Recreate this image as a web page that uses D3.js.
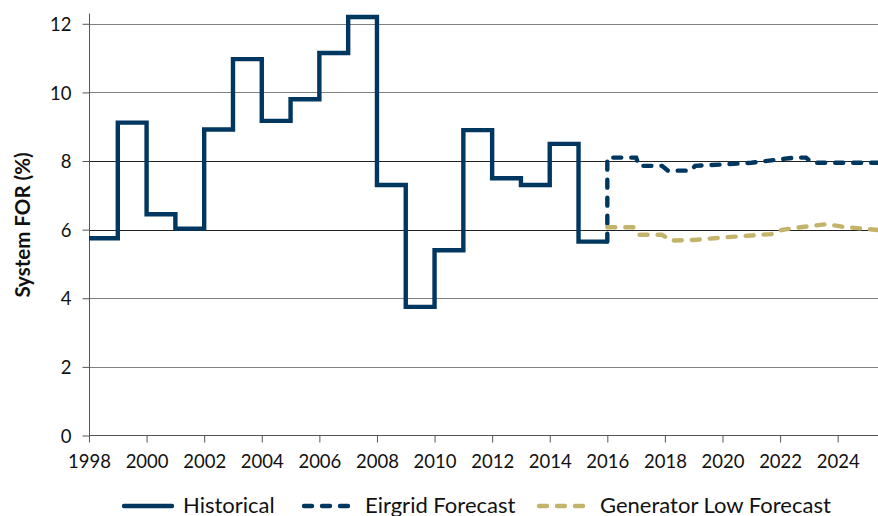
<!DOCTYPE html>
<html><head><meta charset="utf-8">
<script src="https://cdn.jsdelivr.net/npm/d3@7/dist/d3.min.js"></script>
<style>body{margin:0;background:#fff}svg{display:block}text{font-family:Lato,"Open Sans",sans-serif;fill:#111}</style>
</head><body><svg id="c" width="878" height="516"></svg>
<script>
// Historical annual values (step: value held from year to next year)
const histYears = [1998,1999,2000,2001,2002,2003,2004,2005,2006,2007,2008,2009,2010,2011,2012,2013,2014,2015,2016];
const histValues = [5.75,9.12,6.45,6.03,8.92,10.97,9.17,9.8,11.15,12.2,7.3,3.75,5.4,8.9,7.5,7.3,8.5,5.65,5.65];
// Eirgrid forecast
const eirYears = [2016,2016,2017,2017.1,2017.9,2018.1,2018.9,2019.05,2020,2021,2022,2022.5,2022.9,2023.1,2025.4];
const eirValues = [5.65,8.1,8.1,7.86,7.86,7.72,7.72,7.86,7.9,7.95,8.05,8.1,8.1,7.95,7.95];
// Generator low forecast
const genYears = [2016,2016.9,2017.1,2017.9,2018.2,2019,2020,2021,2021.7,2022.05,2022.5,2023,2023.6,2024.2,2025.4];
const genValues = [6.07,6.07,5.85,5.85,5.68,5.70,5.77,5.83,5.87,5.99,6.05,6.1,6.16,6.08,5.99];
const xTicks = [1998,2000,2002,2004,2006,2008,2010,2012,2014,2016,2018,2020,2022,2024];
const yTicks = [0,2,4,6,8,10,12];
const legendLabels = ["Historical","Eirgrid Forecast","Generator Low Forecast"];

const navy = "#003760", gold = "#c4b36a";
const svg = d3.select("#c");
const x = d3.scaleLinear().domain([1998, 2025.4]).range([89, 878]);
const y = d3.scaleLinear().domain([0, 12.3]).range([435.5, 13.5]);

// gridlines
svg.append("g").selectAll("line").data(yTicks.filter(d=>d>0)).join("line")
  .attr("x1", 89).attr("x2", 878).attr("y1", d=>Math.round(y(d))+0.5).attr("y2", d=>Math.round(y(d))+0.5)
  .attr("stroke", d=> (d===8||d===6) ? "#222" : "#808080").attr("stroke-width",1);

// axes
const yAxis = svg.append("g").attr("transform","translate(89.5,0)")
  .call(d3.axisLeft(y).tickValues(yTicks).tickSize(7).tickPadding(11).tickFormat(d3.format("d")));
const xAxis = svg.append("g").attr("transform","translate(0,435.5)")
  .call(d3.axisBottom(x).tickValues(xTicks).tickSize(7).tickPadding(12).tickFormat(d3.format("d")));
[yAxis,xAxis].forEach(a=>{
  a.select(".domain").attr("stroke","#555");
  a.selectAll(".tick line").attr("stroke","#555");
  a.selectAll("text").style("font-size","18.5px").attr("fill","#111");
});
yAxis.select(".domain").attr("d","M0,13.5V435.5");
xAxis.select(".domain").attr("d","M89,0H878");
yAxis.selectAll("text").attr("dy","0.36em");

// lines
const histPts = histYears.map((yr,i)=>[yr,histValues[i]]);
svg.append("path").datum(histPts)
  .attr("d", d3.line().x(d=>x(d[0])).y(d=>y(d[1])).curve(d3.curveStepAfter))
  .attr("fill","none").attr("stroke",navy).attr("stroke-width",4.4).attr("stroke-linejoin","miter");
svg.append("path").datum(eirYears.map((yr,i)=>[yr,eirValues[i]]))
  .attr("d", d3.line().x(d=>x(d[0])).y(d=>y(d[1])))
  .attr("fill","none").attr("stroke",navy).attr("stroke-width",4.4).attr("stroke-dasharray","8,10").attr("stroke-linecap","round");
svg.append("path").datum(genYears.map((yr,i)=>[yr,genValues[i]]))
  .attr("d", d3.line().x(d=>x(d[0])).y(d=>y(d[1])))
  .attr("fill","none").attr("stroke",gold).attr("stroke-width",4.4).attr("stroke-dasharray","8,10").attr("stroke-linecap","round");

// y title
svg.append("text").attr("transform","translate(30,225) rotate(-90)").attr("text-anchor","middle")
  .style("font-size","20.5px").style("font-weight","bold").text("System FOR (%)");

// legend
const leg = [
  {x1:124,x2:172,tx:183,c:navy,dash:null},
  {x1:304,x2:352,tx:365,c:navy,dash:"8,10"},
  {x1:539,x2:587,tx:600,c:gold,dash:"8,10"}
];
leg.forEach((l,i)=>{
  svg.append("line").attr("x1",l.x1).attr("x2",l.x2).attr("y1",506).attr("y2",506)
    .attr("stroke",l.c).attr("stroke-width",4.4).attr("stroke-linecap","round").attr("stroke-dasharray",l.dash);
  svg.append("text").attr("x",l.tx).attr("y",512.5).style("font-size","22px").text(legendLabels[i]);
});
</script></body></html>
